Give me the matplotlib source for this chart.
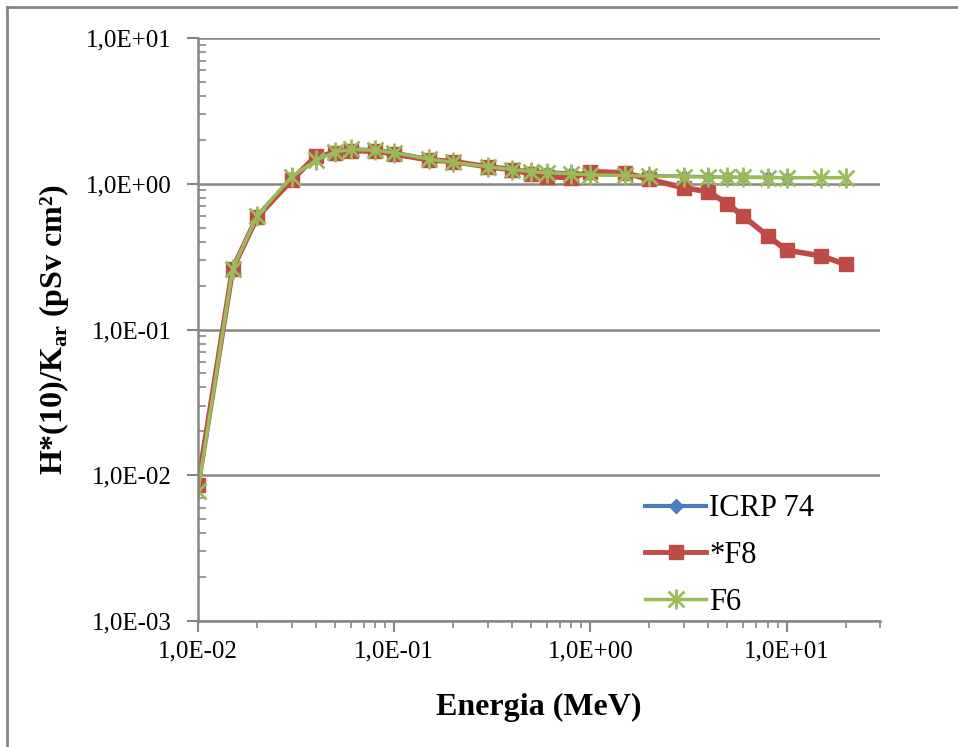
import numpy as np
import matplotlib
matplotlib.use("Agg")
import matplotlib.pyplot as plt
from matplotlib.ticker import FuncFormatter, LogLocator, NullFormatter
from matplotlib.lines import Line2D

plt.rcParams['font.family'] = ['Liberation Serif', 'DejaVu Serif']
plt.rcParams['mathtext.fontset'] = 'custom'
plt.rcParams['mathtext.rm'] = 'Liberation Serif'
plt.rcParams['mathtext.bf'] = 'Liberation Serif:bold'

# energias (MeV)
e_icrp = [0.01, 0.015, 0.02, 0.03, 0.04, 0.05, 0.06, 0.08, 0.1, 0.15, 0.2, 0.3,
          0.4, 0.5, 0.6, 0.8, 1.0, 1.5, 2.0, 3.0, 4.0, 5.0, 6.0, 8.0, 10.0]
e_mc = e_icrp + [15.0, 20.0]

icrp74 = [0.0080, 0.26, 0.61, 1.10, 1.47, 1.67, 1.74, 1.72, 1.65, 1.49, 1.40, 1.31,
          1.26, 1.23, 1.21, 1.19, 1.17, 1.15, 1.14, 1.13, 1.12, 1.11, 1.11, 1.11, 1.10]
f8 = [0.0086, 0.26, 0.59, 1.06, 1.55, 1.62, 1.68, 1.68, 1.60, 1.46, 1.42, 1.31,
      1.25, 1.17, 1.12, 1.10, 1.21, 1.19, 1.07, 0.94, 0.88, 0.73, 0.60, 0.44, 0.35,
      0.32, 0.28]
f6 = [0.0078, 0.26, 0.60, 1.12, 1.45, 1.65, 1.72, 1.70, 1.63, 1.48, 1.40, 1.31,
      1.25, 1.21, 1.19, 1.17, 1.15, 1.14, 1.13, 1.12, 1.11, 1.11, 1.11, 1.10, 1.10,
      1.10, 1.10]

azul = '#4A7EBB'
vermelho = '#BE4B48'
verde = '#9BBB59'

fig = plt.figure(figsize=(9.58, 7.47), dpi=100)
ax = fig.add_axes([0.2067, 0.1687, 0.712, 0.7804])

ax.plot(e_icrp, icrp74, color=azul, lw=2.2, marker='D', ms=6)
ax.plot(e_mc, f8, color=vermelho, lw=4, marker='s', ms=10)
ax.plot(e_mc, f6, color=verde, lw=2.5, marker='x', ms=11, mew=2)
ax.plot(e_mc, f6, color=verde, lw=0, marker='|', ms=14, mew=2)

ax.set_xscale('log')
ax.set_yscale('log')
ax.set_xlim(0.01, 30)
ax.set_ylim(1e-3, 10)

fmt = FuncFormatter(lambda v, p: ('%.1E' % v).replace('.', ','))
ax.xaxis.set_major_formatter(fmt)
ax.yaxis.set_major_formatter(fmt)
ax.xaxis.set_minor_locator(LogLocator(base=10, subs=np.arange(2, 10)))
ax.yaxis.set_minor_locator(LogLocator(base=10, subs=np.arange(2, 10)))
ax.xaxis.set_minor_formatter(NullFormatter())
ax.yaxis.set_minor_formatter(NullFormatter())

ax.grid(True, which='major', axis='y', color='#868686', lw=1.8)
for s in ['top', 'right']:
    ax.spines[s].set_visible(False)
for s in ['left', 'bottom']:
    ax.spines[s].set_color('#868686')
    ax.spines[s].set_linewidth(1.8)

ax.tick_params(which='major', direction='out', length=8, width=1.5, color='#868686',
               labelsize=18, pad=6)
ax.tick_params(axis='y', which='major', pad=11)
ax.tick_params(axis='x', which='minor', direction='out', length=5, width=1.2, color='#868686')
ax.tick_params(axis='y', which='minor', direction='in', length=6, width=1.2, color='#868686')

ax.set_xlabel('Energia (MeV)', fontsize=23, fontweight='bold', labelpad=22)
ax.set_ylabel(r'H*(10)/K$_\mathbf{ar}$ (pSv cm²)', fontsize=23, fontweight='bold', labelpad=11)

h_icrp = Line2D([], [], color=azul, lw=3, marker='D', ms=7)
h_f8 = Line2D([], [], color=vermelho, lw=3.5, marker='s', ms=10)
h_f6a = Line2D([], [], color=verde, lw=2.5, marker='x', ms=11, mew=2)
h_f6b = Line2D([], [], color=verde, lw=0, marker='|', ms=14, mew=2)
leg = ax.legend([h_icrp, h_f8, (h_f6a, h_f6b)], ['ICRP 74', '*F8', 'F6'],
                loc='lower right', frameon=False, fontsize=22, handlelength=2.0,
                handletextpad=0.1, labelspacing=0.58, bbox_to_anchor=(0.944, -0.04))

# moldura do grafico
fig.add_artist(Line2D([7 / 958, 7 / 958], [0, 1 - 7 / 747], transform=fig.transFigure,
                      color='#868686', lw=2))
fig.add_artist(Line2D([7 / 958, 1], [1 - 7 / 747, 1 - 7 / 747], transform=fig.transFigure,
                      color='#868686', lw=2))

fig.savefig('out.png', dpi=100)
